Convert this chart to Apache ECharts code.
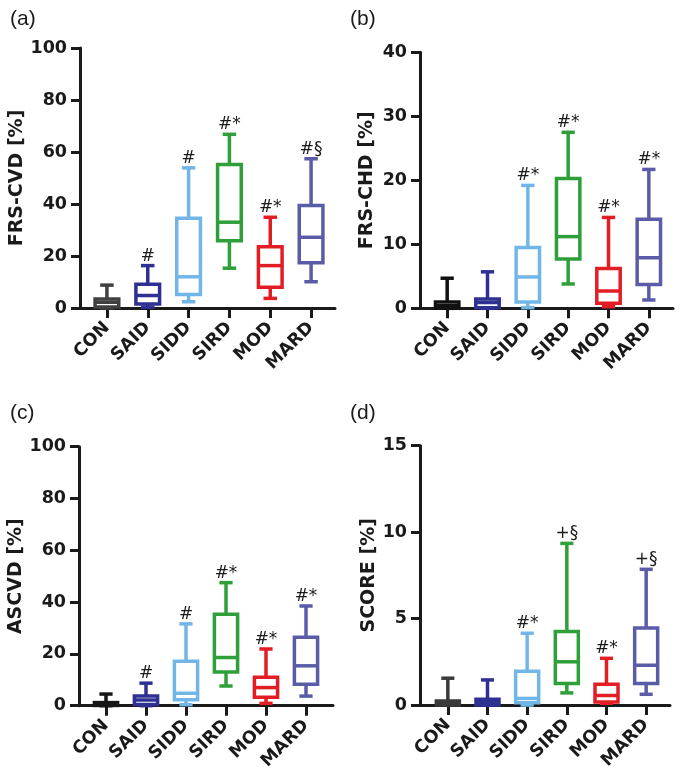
<!DOCTYPE html>
<html>
<head>
<meta charset="utf-8">
<script src="https://cdn.jsdelivr.net/npm/echarts@6/dist/echarts.min.js"></script>
<style>
html,body{margin:0;padding:0;background:#fff;}
#chart{width:681px;height:780px;}
</style>
</head>
<body>
<div id="chart"></div>
<script>
const categories = ['CON', 'SAID', 'SIDD', 'SIRD', 'MOD', 'MARD'];
const groupColors = ['#3c3c3c', '#2e3192', '#72b6e8', '#2f9f3a', '#e31d24', '#5b5ca8'];
const conColors = ['#404040', '#111111', '#161616', '#3a3a3a'];

// each box: [min, Q1, median, Q3, max]
const frsCvd = [[0, 0.4, 2.2, 3.5, 8.8], [0.3, 1.5, 4.8, 9.1, 16.3], [2.4, 5.2, 12.0, 34.5, 53.9], [15.3, 25.9, 33.0, 55.2, 66.8], [3.7, 8.0, 16.3, 23.6, 34.9], [10.1, 17.4, 27.2, 39.4, 57.4]];
const frsChd = [[0, 0, 0.4, 1.0, 4.7], [0, 0.1, 0.9, 1.45, 5.7], [0.1, 1.0, 4.9, 9.5, 19.2], [3.8, 7.7, 11.2, 20.3, 27.5], [0.25, 0.8, 2.7, 6.2, 14.2], [1.3, 3.7, 7.9, 13.9, 21.7]];
const ascvd = [[0, 0.1, 0.6, 1.2, 4.5], [0, 0.5, 2.2, 3.7, 8.7], [0.4, 2.3, 4.8, 17.2, 31.6], [7.6, 13.0, 18.6, 35.3, 47.5], [0.9, 3.3, 7.0, 11.0, 21.9], [3.7, 8.3, 15.4, 26.4, 38.5]];
const score = [[0, 0, 0.1, 0.23, 1.55], [0, 0, 0.15, 0.33, 1.45], [0, 0.13, 0.38, 1.95, 4.15], [0.7, 1.25, 2.5, 4.25, 9.35], [0.1, 0.18, 0.55, 1.2, 2.7], [0.62, 1.25, 2.3, 4.45, 7.85]];

const annotA = ['', '#', '#', '#*', '#*', '#§'];
const annotB = ['', '', '#*', '#*', '#*', '#*'];
const annotC = ['', '#', '#', '#*', '#*', '#*'];
const annotD = ['', '', '#*', '+§', '#*', '+§'];

const panelLetters = ['(a)', '(b)', '(c)', '(d)'];
const axisNames = ['FRS-CVD [%]', 'FRS-CHD [%]', 'ASCVD [%]', 'SCORE [%]'];
const yMax = [100, 40, 100, 15];
const yInterval = [20, 10, 20, 5];

const panels = [
  {data: frsCvd, annot: annotA, grid: {left: 86.5, top: 48, width: 245, height: 260}, axisX: 80, axisEnd: 335, nameGap: 52, letter: {left: 5, top: 4}},
  {data: frsChd, annot: annotB, grid: {left: 427, top: 52.3, width: 242, height: 256}, axisX: 420, axisEnd: 673, nameGap: 43, letter: {left: 345, top: 4}},
  {data: ascvd, annot: annotC, grid: {left: 86, top: 446.7, width: 240, height: 259}, axisX: 79, axisEnd: 333, nameGap: 53, letter: {left: 5, top: 398}},
  {data: score, annot: annotD, grid: {left: 428, top: 445.7, width: 238, height: 259.3}, axisX: 420, axisEnd: 670, nameGap: 41, letter: {left: 345, top: 398}}
];

const INK = '#1a1a1a';
const grids = [], xAxes = [], yAxes = [], series = [], titles = [];

panels.forEach((p, i) => {
  const colors = groupColors.slice();
  colors[0] = conColors[i];
  grids.push(Object.assign({containLabel: false}, p.grid));
  grids.push({left: p.axisX, top: p.grid.top, width: p.axisEnd - p.axisX, height: p.grid.height});
  const gMain = i * 2, gOver = i * 2 + 1;

  xAxes.push({
    type: 'category', gridIndex: gMain, data: categories,
    axisLine: {show: false},
    axisTick: {show: true, alignWithLabel: true, length: 10, lineStyle: {color: INK, width: 3}},
    axisLabel: {rotate: 45, margin: 17, color: INK, fontFamily: 'DejaVu Sans', fontWeight: 'bold', fontSize: 17.5, interval: 0},
    splitLine: {show: false}
  });
  xAxes.push({
    type: 'value', gridIndex: gOver, min: 0, max: 1,
    axisLine: {show: true, lineStyle: {color: INK, width: 3}},
    axisTick: {show: false}, axisLabel: {show: false}, splitLine: {show: false}
  });
  yAxes.push({
    type: 'value', gridIndex: gMain, min: 0, max: yMax[i], interval: yInterval[i],
    offset: p.grid.left - p.axisX,
    name: axisNames[i], nameLocation: 'middle', nameGap: p.nameGap,
    nameTextStyle: {color: INK, fontFamily: 'DejaVu Sans', fontWeight: 'bold', fontSize: 19},
    axisLine: {show: true, lineStyle: {color: INK, width: 3}},
    axisTick: {show: true, length: 9, lineStyle: {color: INK, width: 3}},
    axisLabel: {color: INK, fontFamily: 'DejaVu Sans', fontWeight: 'bold', fontSize: 17.5, margin: 13},
    splitLine: {show: false}
  });
  yAxes.push({type: 'value', gridIndex: gOver, min: 0, max: 1, show: false});

  const rows = p.data.map((d, k) => [k].concat(d));
  const annot = p.annot;
  series.push({
    type: 'custom', xAxisIndex: gMain, yAxisIndex: gMain,
    data: rows, encode: {x: 0, y: [1, 2, 3, 4, 5]}, clip: false, z: 3,
    renderItem: function (params, api) {
      const idx = api.value(0);
      const v = [1, 2, 3, 4, 5].map(j => api.value(j));
      const cx = api.coord([idx, 0])[0];
      const band = api.size([1, 0])[0];
      const hw = band * 0.29, cw = band * 0.165;
      const y = v.map(val => api.coord([idx, val])[1]);
      const col = colors[idx];
      const lw = 3.5;
      const ls = {stroke: col, lineWidth: lw, fill: null};
      const children = [
        {type: 'line', shape: {x1: cx, y1: y[3], x2: cx, y2: y[4]}, style: ls},
        {type: 'line', shape: {x1: cx, y1: y[1], x2: cx, y2: y[0]}, style: ls},
        {type: 'line', shape: {x1: cx - cw, y1: y[4], x2: cx + cw, y2: y[4]}, style: ls},
        {type: 'line', shape: {x1: cx - cw, y1: y[0], x2: cx + cw, y2: y[0]}, style: ls},
        {type: 'rect', shape: {x: cx - hw, y: y[3], width: 2 * hw, height: Math.max(y[1] - y[3], 0.5)}, style: {stroke: col, lineWidth: lw, fill: '#ffffff'}},
        {type: 'line', shape: {x1: cx - hw, y1: y[2], x2: cx + hw, y2: y[2]}, style: ls}
      ];
      if (annot[idx]) {
        children.push({type: 'text', style: {text: annot[idx], x: cx, y: y[4] - 1, align: 'center', verticalAlign: 'bottom', fill: INK, font: '17px "DejaVu Sans"'}});
      }
      return {type: 'group', children: children};
    }
  });

  titles.push({text: panelLetters[i], left: p.letter.left, top: p.letter.top,
    textStyle: {color: INK, fontFamily: 'Liberation Sans', fontWeight: 'normal', fontSize: 21}});
});

const chart = echarts.init(document.getElementById('chart'), null, {renderer: 'canvas'});
chart.setOption({
  backgroundColor: '#ffffff',
  animation: false,
  title: titles,
  grid: grids,
  xAxis: xAxes,
  yAxis: yAxes,
  series: series
});
</script>
</body>
</html>
